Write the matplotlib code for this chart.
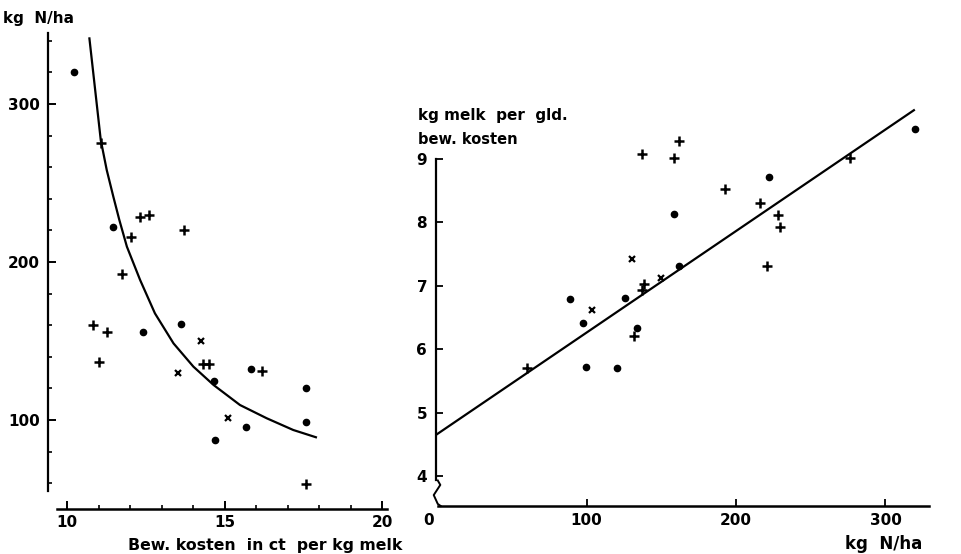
import matplotlib
matplotlib.use("Agg")
import matplotlib.pyplot as plt
import matplotlib.transforms as mtransforms
from matplotlib.ticker import MultipleLocator

# Linker figuur: kg N/ha tegen bewerkingskosten
kosten_punt = [10.22, 11.45, 12.40, 13.61, 14.67, 15.84, 17.57, 17.57, 15.67, 14.70]
stikstof_punt = [320, 222, 156, 161, 125, 132, 120.5, 98.7, 95.4, 87.5]
kosten_plus = [10.82, 11.26, 11.02, 11.07, 12.32, 12.60, 12.03, 13.70, 11.74, 14.33, 14.52, 16.18, 17.58]
stikstof_plus = [160, 155.5, 137, 275, 228.3, 229.9, 216, 220.3, 192.4, 135.4, 135.4, 131.2, 59.3]
kosten_kruis = [14.25, 13.53, 15.12]
stikstof_kruis = [150, 129.5, 101]

curve_kosten = [10.71, 11.07, 11.26, 11.47, 11.66, 11.90, 12.32, 12.79,
                13.38, 14.01, 14.65, 15.49, 16.34, 17.18, 17.90]
curve_stikstof = [341.5, 277.2, 258.2, 241.3, 226.6, 209.7, 188.6, 167.5,
                  148.5, 133.8, 122.2, 109.5, 101.1, 93.7, 89.1]

# Rechter figuur: kg melk per gld. bew. kosten tegen kg N/ha
n_punt = [320, 222.4, 158.2, 162, 125.7, 88.8, 97.5, 134, 99.8, 120.3]
melk_punt = [9.48, 8.71, 8.13, 7.32, 6.81, 6.80, 6.42, 6.33, 5.72, 5.70]
n_plus = [162, 137.4, 158.2, 276, 192.8, 215.9, 228, 229.7, 220.8, 138.5, 137, 131.8, 60.2]
melk_plus = [9.28, 9.08, 9.01, 9.01, 8.52, 8.30, 8.12, 7.92, 7.32, 7.03, 6.93, 6.21, 5.71]
n_kruis = [130.6, 150.1, 103.4]
melk_kruis = [7.42, 7.12, 6.62]

lijn_n = [0, 319]
lijn_melk = [4.66, 9.77]

plt.rcParams['font.family'] = ['DejaVu Sans']
plt.rcParams['font.weight'] = 'bold'
plt.rcParams['font.size'] = 11

fig = plt.figure(figsize=(9.61, 5.54), dpi=100)

def markers(ax, xs_p, ys_p, xs_plus, ys_plus, xs_x, ys_x):
    ax.plot(xs_p, ys_p, 'o', color='black', markersize=4.5, clip_on=False)
    ax.plot(xs_plus, ys_plus, '+', color='black', markersize=7, mew=1.8, clip_on=False)
    ax.plot(xs_x, ys_x, 'x', color='black', markersize=5, mew=1.6, clip_on=False)

# --- links
ax1 = fig.add_axes([0.0501, 0.0821, 0.3573, 0.8614])
ax1.set_xlim(9.4, 20.3)
ax1.set_ylim(44, 346)
markers(ax1, kosten_punt, stikstof_punt, kosten_plus, stikstof_plus, kosten_kruis, stikstof_kruis)
ax1.plot(curve_kosten, curve_stikstof, color='black', lw=1.6)
for s in ['top', 'right']:
    ax1.spines[s].set_visible(False)
ax1.spines['left'].set_bounds(55, 345)
ax1.spines['bottom'].set_bounds(9.68, 20.16)
ax1.spines['left'].set_linewidth(1.6)
ax1.spines['bottom'].set_linewidth(1.8)
ax1.set_xticks([10, 15, 20])
ax1.xaxis.set_minor_locator(MultipleLocator(1))
ax1.set_yticks([100, 200, 300])
ax1.yaxis.set_minor_locator(MultipleLocator(20))
ax1.tick_params(which='major', direction='in', length=6, width=1.4, pad=6, labelsize=11)
ax1.tick_params(which='minor', direction='in', length=3, width=1.2)
ax1.tick_params(axis='x', which='both', pad=5)
fig.text(0.003, 0.966, 'kg  N/ha', fontsize=11, fontweight='bold', va='center')
fig.text(0.133, 0.016, 'Bew. kosten  in ct  per kg melk', fontsize=11.3, fontweight='bold', va='center')

# --- rechts
ax2 = fig.add_axes([0.4532, 0.0866, 0.5149, 0.7408])
ax2.set_xlim(-1, 330)
ax2.set_ylim(3.527, 10.0)
markers(ax2, n_punt, melk_punt, n_plus, melk_plus, n_kruis, melk_kruis)
ax2.plot(lijn_n, lijn_melk, color='black', lw=1.6)
for s in ['top', 'right']:
    ax2.spines[s].set_visible(False)
ax2.spines['left'].set_bounds(3.93, 9.0)
ax2.spines['bottom'].set_bounds(0.5, 329)
ax2.spines['left'].set_linewidth(1.6)
ax2.spines['bottom'].set_linewidth(1.8)
ax2.set_xticks([0, 100, 200, 300])
ax2.set_yticks([4, 5, 6, 7, 8, 9])
ax2.tick_params(which='major', direction='in', length=5, width=1.3, pad=6, labelsize=11)
ax2.tick_params(axis='x', pad=5)
# "0" iets naar links, zoals in het origineel
lbl0 = ax2.get_xticklabels()[0]
lbl0.set_transform(lbl0.get_transform() + mtransforms.ScaledTranslation(-8 / 100, 0, fig.dpi_scale_trans))
ax2.xaxis.get_major_ticks()[0].tick1line.set_visible(False)
# asbreuk (zigzag)
ax2.plot([0.5, 2.2, -2.2, 0.5, 2.5], [3.93, 3.86, 3.70, 3.56, 3.527], color='black', lw=1.4, clip_on=False)

fig.text(0.435, 0.791, 'kg melk  per  gld.', fontsize=11, fontweight='bold', va='center')
fig.text(0.435, 0.748, 'bew. kosten', fontsize=10.5, fontweight='bold', va='center')
fig.text(0.879, 0.018, 'kg  N/ha', fontsize=12, fontweight='bold', va='center')

fig.savefig('out.png', dpi=100)
